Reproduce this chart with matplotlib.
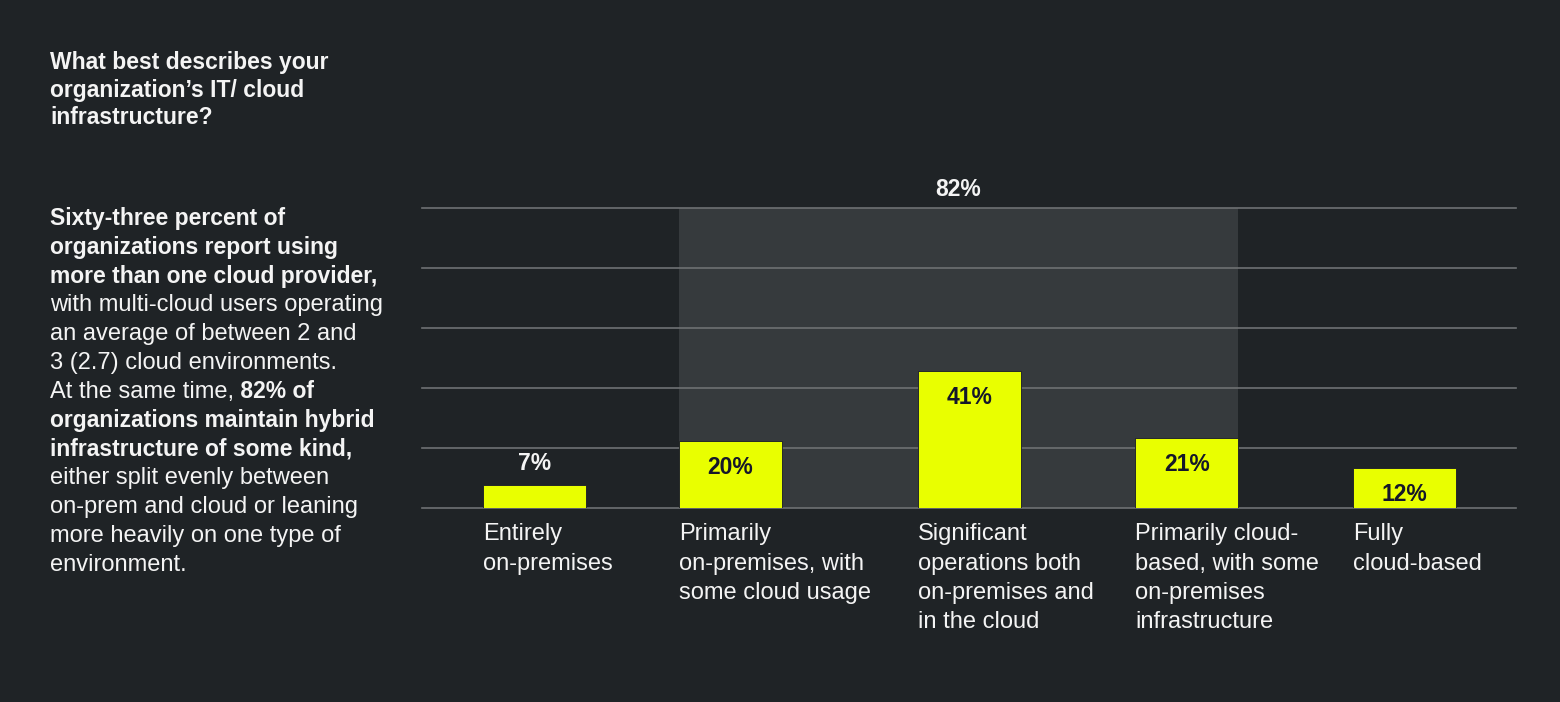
import matplotlib
matplotlib.use("Agg")
import matplotlib.pyplot as plt

W, H = 1560, 702

categories = [
    "Entirely\non-premises",
    "Primarily\non-premises, with\nsome cloud usage",
    "Significant\noperations both\non-premises and\nin the cloud",
    "Primarily cloud-\nbased, with some\non-premises\ninfrastructure",
    "Fully\ncloud-based",
]
values = [7, 20, 41, 21, 12]
hybrid_total = 82  # bars 2..4 together

title_lines = [
    "What best describes your",
    "organization\u2019s IT/ cloud",
    "infrastructure?",
]
# (regular part, bold part) per line
body_lines = [
    ("", "Sixty-three percent of"),
    ("", "organizations report using"),
    ("", "more than one cloud provider,"),
    ("with multi-cloud users operating", ""),
    ("an average of between 2 and", ""),
    ("3 (2.7) cloud environments.", ""),
    ("At the same time,", " 82% of"),
    ("", "organizations maintain hybrid"),
    ("", "infrastructure of some kind,"),
    ("either split evenly between", ""),
    ("on-prem and cloud or leaning", ""),
    ("more heavily on one type of", ""),
    ("environment.", ""),
]

BG = "#1f2326"
SHADE = "#363a3d"
YELLOW = "#e9ff00"
GRID = "#6e7173"
WHITE = "#f4f4f4"
DARK = "#15172a"
FONT = "Liberation Sans"

plt.rcParams["font.family"] = [FONT, "DejaVu Sans"]

fig = plt.figure(figsize=(W / 100, H / 100), dpi=100, facecolor=BG)
ax = fig.add_axes([422 / W, 1 - 508 / H, (1516 - 422) / W, 300 / H])
ax.set_facecolor(BG)

# bar layout (slot units)
xpos = [0, 0.9, 2, 3, 4]
bw = 0.474
ymax = 90

ax.set_xlim(-0.28, 4.75)
ax.set_ylim(0, ymax)

# shaded "hybrid" region
ax.axvspan(xpos[1], xpos[3] + bw, ymin=0, ymax=1, color=SHADE, zorder=0, lw=0)

for g in range(0, ymax + 1, 18):
    ax.axhline(g, color=GRID, lw=1.2, zorder=1, clip_on=False)

ax.bar(xpos, values, width=bw, align="edge", color=YELLOW,
       edgecolor=DARK, linewidth=0.6, zorder=2)

for x, v, lab in zip(xpos, values, categories):
    if v < 10:
        ax.annotate(f"{v}%", (x + bw / 2, v), xytext=(0, 15), textcoords="offset points",
                    ha="center", va="center", color=WHITE, fontsize=16.5,
                    fontweight="bold", zorder=3)
    else:
        ax.annotate(f"{v}%", (x + bw / 2, v), xytext=(0, -19), textcoords="offset points",
                    ha="center", va="center", color=DARK, fontsize=16.5,
                    fontweight="bold", zorder=3)
    ax.annotate(lab, (x, 0), xytext=(0, -11), textcoords="offset points",
                ha="left", va="top", color=WHITE, fontsize=17, linespacing=1.43,
                annotation_clip=False)

ax.annotate(f"{hybrid_total}%", ((xpos[1] + xpos[3] + bw) / 2, ymax), xytext=(0, 13),
            textcoords="offset points", ha="center", va="center", color=WHITE,
            fontsize=16.5, fontweight="bold", annotation_clip=False)

for s in ax.spines.values():
    s.set_visible(False)
ax.set_xticks([])
ax.set_yticks([])

# left text block
x0 = 50 / W
for i, line in enumerate(title_lines):
    y = 62 + i * 28
    fig.text(x0, 1 - y / H, line, ha="left", va="center", color=WHITE,
             fontsize=16.5, fontweight="bold")

for i, (reg, bold) in enumerate(body_lines):
    y = 219 + i * 28.8
    if reg:
        t = fig.text(x0, 1 - y / H, reg, ha="left", va="center", color=WHITE, fontsize=17)
        if bold:
            ax.annotate(bold, xy=(1, 0), xycoords=t, ha="left", va="bottom",
                        color=WHITE, fontsize=16.5, fontweight="bold")
    else:
        fig.text(x0, 1 - y / H, bold, ha="left", va="center", color=WHITE,
                 fontsize=16.5, fontweight="bold")

fig.savefig("out.png", dpi=100, facecolor=BG)
